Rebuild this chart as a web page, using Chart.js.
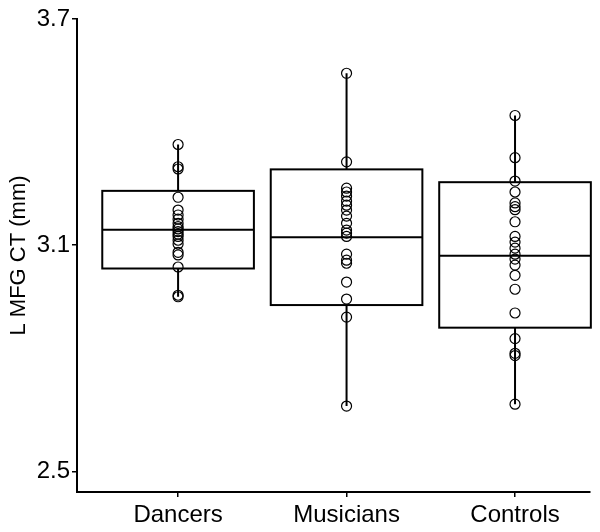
<!DOCTYPE html>
<html>
<head>
<meta charset="utf-8">
<script src="https://cdn.jsdelivr.net/npm/chart.js@4.4.1/dist/chart.umd.min.js"></script>
<style>
  html, body { margin: 0; padding: 0; background: #fff; }
  #wrap { width: 600px; height: 532px; position: relative; }
</style>
</head>
<body>
<div id="wrap"><canvas id="chart"></canvas></div>
<script>
// groups along the x axis
const categories = ['Dancers', 'Musicians', 'Controls'];
const yTicks = [2.5, 3.1, 3.7];

// individual observations (L MFG CT, mm)
const dancers = [3.367, 3.308, 3.302, 3.227, 3.193, 3.180, 3.169, 3.158, 3.149, 3.143,
                 3.136, 3.129, 3.123, 3.113, 3.103, 3.081, 3.074, 3.042, 2.967, 2.963];
const musicians = [3.556, 3.321, 3.251, 3.241, 3.230, 3.217, 3.206, 3.193, 3.177, 3.158,
                   3.140, 3.132, 3.123, 3.076, 3.060, 3.052, 3.002, 2.957, 2.909, 2.673];
const controls = [3.444, 3.332, 3.270, 3.241, 3.212, 3.202, 3.194, 3.162, 3.123, 3.108,
                  3.092, 3.076, 3.063, 3.047, 3.020, 2.983, 2.920, 2.852, 2.813, 2.807, 2.678];

// box summaries: [lower whisker, Q1, median, Q3, upper whisker]
const dancersBox = [2.963, 3.038, 3.141, 3.244, 3.367];
const musiciansBox = [2.673, 2.941, 3.121, 3.301, 3.556];
const controlsBox = [2.678, 2.881, 3.072, 3.267, 3.444];

const groups = [dancers, musicians, controls];
const boxes = [dancersBox, musiciansBox, controlsBox];

const FONT = "'Liberation Sans', Arial, sans-serif";

// draws whiskers, boxes and medians under the points
const boxPlugin = {
    id: 'boxes',
    beforeDatasetsDraw(chart) {
        const { ctx, scales: { x, y } } = chart;
        const half = 0.45;
        ctx.save();
        ctx.strokeStyle = '#000';
        ctx.lineWidth = 2;
        boxes.forEach((b, i) => {
            const cx = x.getPixelForValue(i + 1);
            const x0 = x.getPixelForValue(i + 1 - half);
            const x1 = x.getPixelForValue(i + 1 + half);
            const [lo, q1, med, q3, hi] = b.map(v => y.getPixelForValue(v));
            // whiskers
            ctx.beginPath();
            ctx.moveTo(cx, hi); ctx.lineTo(cx, q3);
            ctx.moveTo(cx, q1); ctx.lineTo(cx, lo);
            ctx.stroke();
            // box
            ctx.fillStyle = '#fff';
            ctx.fillRect(x0, q3, x1 - x0, q1 - q3);
            ctx.strokeRect(x0, q3, x1 - x0, q1 - q3);
            // median
            ctx.beginPath();
            ctx.moveTo(x0, med); ctx.lineTo(x1, med);
            ctx.stroke();
        });
        ctx.restore();
    }
};

const datasets = groups.map((vals, i) => ({
    label: categories[i],
    data: vals.map(v => ({ x: i + 1, y: v })),
    pointRadius: 5,
    pointBorderWidth: 1.2,
    pointBorderColor: '#000',
    pointBackgroundColor: 'rgba(0,0,0,0)',
    showLine: false
}));

new Chart(document.getElementById('chart'), {
    type: 'scatter',
    data: { datasets },
    plugins: [boxPlugin],
    options: {
        responsive: true,
        maintainAspectRatio: false,
        animation: false,
        layout: { padding: { top: 19, right: 10, left: 0, bottom: 0 } },
        plugins: {
            legend: { display: false },
            tooltip: { enabled: false }
        },
        scales: {
            x: {
                type: 'linear',
                min: 0.4,
                max: 3.445,
                afterBuildTicks: s => { s.ticks = [1, 2, 3].map(v => ({ value: v })); },
                afterFit: s => { s.height = 40; },
                ticks: {
                    color: '#000',
                    padding: 4,
                    font: { family: FONT, size: 24 },
                    callback: v => categories[v - 1]
                },
                grid: { drawOnChartArea: false, drawTicks: true, tickLength: 5, color: '#000', lineWidth: 1.5 },
                border: { display: true, color: '#000', width: 2 }
            },
            y: {
                min: 2.445,
                max: 3.7,
                afterBuildTicks: s => { s.ticks = yTicks.map(v => ({ value: v })); },
                afterFit: s => { s.width = 77; },
                ticks: {
                    color: '#000',
                    padding: 2,
                    font: { family: FONT, size: 24 },
                    callback: v => v.toFixed(1)
                },
                title: {
                    display: true,
                    text: 'L MFG CT (mm)',
                    color: '#000',
                    padding: { top: 6, bottom: 0 },
                    font: { family: FONT, size: 22 }
                },
                grid: { drawOnChartArea: false, drawTicks: true, tickLength: 5, color: '#000', lineWidth: 1.5 },
                border: { display: true, color: '#000', width: 2 }
            }
        }
    }
});
</script>
</body>
</html>
